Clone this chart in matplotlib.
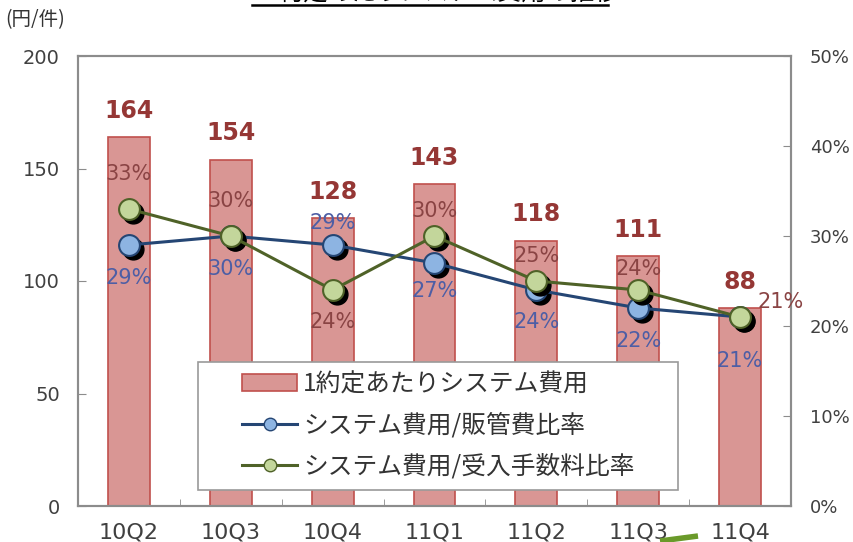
"""Per-trade system cost by quarter, with system cost ratios on a second axis."""

import matplotlib

matplotlib.use("Agg")

import matplotlib.pyplot as plt
import numpy as np
from matplotlib.lines import Line2D
from matplotlib.patches import Patch, Rectangle
from matplotlib.ticker import PercentFormatter
from matplotlib.transforms import offset_copy

plt.rcParams["font.family"] = ["DejaVu Sans", "Noto Sans CJK JP"]

quarters = ["10Q2", "10Q3", "10Q4", "11Q1", "11Q2", "11Q3", "11Q4"]
cost_per_trade = [164, 154, 128, 143, 118, 111, 88]   # 円/件
sga_ratio = [29, 30, 29, 27, 24, 22, 21]              # システム費用/販管費 (%)
fee_ratio = [33, 30, 24, 30, 25, 24, 21]              # システム費用/受入手数料 (%)

legend_labels = ["1約定あたりシステム費用", "システム費用/販管費比率", "システム費用/受入手数料比率"]

# where each percentage label sits relative to its point (points)
sga_offsets = [(0, -24), (0, -24), (0, 16), (0, -20), (0, -23), (0, -24), (0, -32)]
fee_offsets = [(0, 25), (0, 25), (0, -23), (0, 18), (0, 18), (0, 15), (29, 11)]

BAR_FACE = "#d99694"
BAR_EDGE = "#c0504d"
BAR_TEXT = "#953735"
BLUE_LINE, BLUE_FACE, BLUE_TEXT = "#254674", "#8db4e2", "#4d5ea5"
GREEN_LINE, GREEN_FACE, GREEN_TEXT = "#4f6228", "#c3d69b", "#8a4444"
FRAME = "#8c8c8c"
TICK_TEXT = "#404040"
JP = "Noto Sans CJK JP"

fig = plt.figure(figsize=(8.54, 5.42), dpi=100)
ax = fig.add_axes([78 / 854, 1 - 506 / 542, 713 / 854, 450 / 542])
x = np.arange(len(quarters))

ax.bar(x, cost_per_trade, width=0.41, color=BAR_FACE, edgecolor=BAR_EDGE, linewidth=1.2, zorder=2)
for xi, v in zip(x, cost_per_trade):
    ax.annotate(str(v), (xi, v), xytext=(0, 19), textcoords="offset points",
                ha="center", va="center", fontsize=17, fontweight="bold", color=BAR_TEXT)

ax.set_xlim(-0.5, len(quarters) - 0.5)
ax.set_ylim(0, 200)
ax.set_yticks([0, 50, 100, 150, 200])
ax.tick_params(axis="y", direction="in", length=6, pad=13, labelsize=14,
               color=FRAME, labelcolor=TICK_TEXT)
ax.set_xticks(x, quarters)
ax.set_xticks(x[:-1] + 0.5, minor=True)
ax.tick_params(axis="x", which="major", length=0, pad=12, labelsize=16, labelcolor=TICK_TEXT)
ax.tick_params(axis="x", which="minor", direction="in", length=5, color=FRAME)

ax2 = ax.twinx()
ax2.set_ylim(0, 50)
ax2.set_yticks([0, 10, 20, 30, 40, 50])
ax2.yaxis.set_major_formatter(PercentFormatter(decimals=0))
ax2.tick_params(axis="y", direction="in", length=6, pad=13.5, labelsize=13,
                color=FRAME, labelcolor=TICK_TEXT)

for axis in (ax, ax2):
    for spine in axis.spines.values():
        spine.set_color(FRAME)
        spine.set_linewidth(1.5)

# ratio lines; each marker gets a dark drop shadow offset down-right
shadow = offset_copy(ax2.transData, fig=fig, x=4, y=-4, units="dots")
series = (
    (sga_ratio, sga_offsets, BLUE_LINE, BLUE_FACE, BLUE_TEXT, 3),
    (fee_ratio, fee_offsets, GREEN_LINE, GREEN_FACE, GREEN_TEXT, 5),
)
for values, offsets, line_c, face_c, text_c, z in series:
    ax2.plot(x, values, ls="none", marker="o", ms=15, mfc="black", mec="black",
             transform=shadow, zorder=z)
    ax2.plot(x, values, color=line_c, lw=2.2, marker="o", ms=15, mfc=face_c,
             mec=line_c, mew=1.5, zorder=z + 1)
    for xi, v, (dx, dy) in zip(x, values, offsets):
        ax2.annotate(f"{v}%", (xi, v), xytext=(dx, dy), textcoords="offset points",
                     ha="center", va="center", fontsize=15, color=text_c, zorder=7)

# legend on a white box laid over the bars
fig.add_artist(Rectangle((198 / 854, 1 - 490 / 542), 480 / 854, 128 / 542,
                         transform=fig.transFigure, facecolor="white",
                         edgecolor="#9a9a9a", linewidth=1.2, zorder=4))
handles = [
    Patch(facecolor=BAR_FACE, edgecolor=BAR_EDGE, linewidth=1.2),
    Line2D([], [], color=BLUE_LINE, lw=2.2, marker="o", ms=9, mfc=BLUE_FACE, mec=BLUE_LINE),
    Line2D([], [], color=GREEN_LINE, lw=2.2, marker="o", ms=9, mfc=GREEN_FACE, mec=GREEN_LINE),
]
leg = fig.legend(handles, legend_labels, loc="center left",
                 bbox_to_anchor=(242 / 854, 1 - 425.5 / 542), frameon=False,
                 borderpad=0, borderaxespad=0, handlelength=2.23, handletextpad=0.25,
                 labelspacing=0.62, prop={"family": JP, "size": 17.8})
leg.set_zorder(5)
for t in leg.get_texts():
    t.set_color("#333333")

# heading runs off the top edge, only its underline and lower strokes remain
fig.text(430 / 854, 1 - 1 / 542, "・1約定あたりシステム費用の推移", ha="center",
         va="baseline", fontsize=17.5, family=JP)
fig.add_artist(Line2D([252 / 854, 608 / 854], [1 - 4.5 / 542] * 2,
                      transform=fig.transFigure, color="black", lw=1.8))
fig.text(5 / 854, 1 - 20 / 542, "(円/件)", ha="left", va="center",
         fontsize=14, family=JP, color="#333333")

# tail of a green arrow from the slide below
fig.add_artist(Line2D([660 / 854, 698 / 854], [1 - 541 / 542, 1 - 536 / 542],
                      transform=fig.transFigure, color="#6a9a2a", lw=4,
                      solid_capstyle="butt"))

fig.savefig("out.png", dpi=100)
